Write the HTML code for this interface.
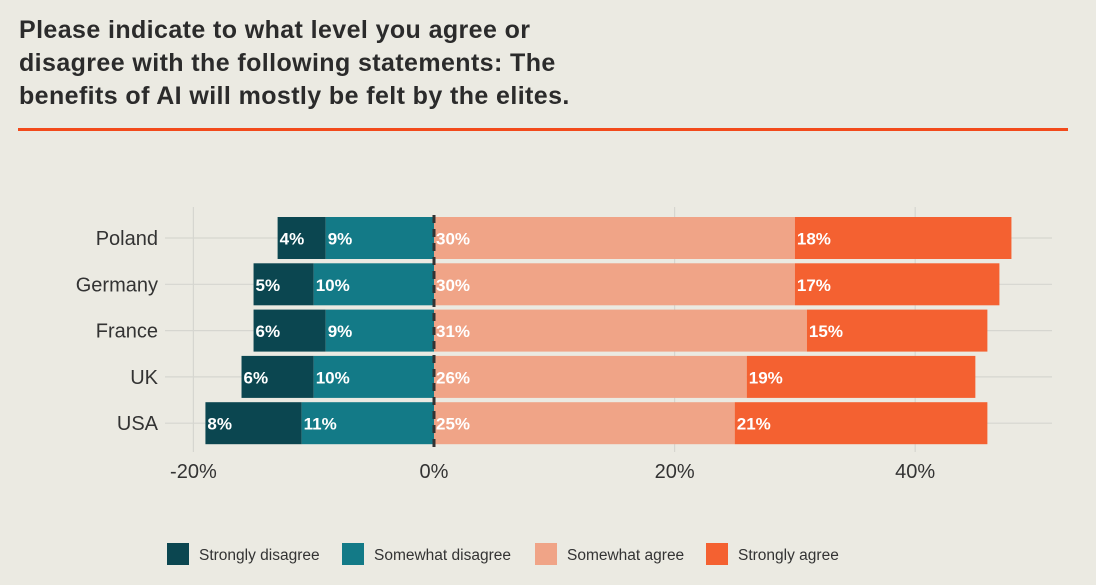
<!DOCTYPE html>
<html><head><meta charset="utf-8"><style>
body{margin:0;background:#EBEAE2;width:1096px;height:585px;overflow:hidden;font-family:"Liberation Sans",sans-serif;}
#title{position:absolute;left:19px;top:14px;font-size:25px;letter-spacing:0.4px;font-weight:bold;line-height:33px;color:#2b2b2b;margin:0;}
#rule{position:absolute;left:18px;top:128px;width:1050px;height:3px;background:#F24A1B;}
svg{position:absolute;left:0;top:0;}
</style></head><body>
<h1 id="title">Please indicate to what level you agree or<br>disagree with the following statements: The<br>benefits of AI will mostly be felt by the elites.</h1>
<div id="rule"></div>
<svg id="chart" width="1096" height="585"></svg>
<script>
const countries=["Poland","Germany","France","UK","USA"];
const stronglyDisagree=[4,5,6,6,8];
const somewhatDisagree=[9,10,9,10,11];
const somewhatAgree=[30,30,31,26,25];
const stronglyAgree=[18,17,15,19,21];
const xTicks=[-20,0,20,40];
const colors=["#0B4650","#137A87","#F0A487","#F46131"];
const seriesNames=["Strongly disagree","Somewhat disagree","Somewhat agree","Strongly agree"];
const NS="http://www.w3.org/2000/svg";
const svg=document.getElementById('chart');
const x=v=>434+v*12.03;
const y0=217,step=46.3,bh=42;
const yc=i=>y0+i*step+bh/2;
function mk(t,a,p){const e=document.createElementNS(NS,t);for(const k in a)e.setAttribute(k,a[k]);(p||svg).appendChild(e);return e;}
xTicks.forEach(t=>{if(t!==0){const l=mk('line',{x1:x(t),x2:x(t),y1:207,y2:452,stroke:'#d6d6d0','stroke-width':1.2});

}
const tx=mk('text',{x:x(t),y:478,'text-anchor':'middle','font-size':20,fill:'#333'});tx.textContent=t+'%';

});
countries.forEach((c,i)=>{const l=mk('line',{x1:165,x2:1052,y1:yc(i),y2:yc(i),stroke:'#d6d6d0','stroke-width':1.2});


const t=mk('text',{x:158,y:yc(i)+7,'text-anchor':'end','font-size':20,fill:'#333'});t.textContent=c;

});
countries.forEach((c,i)=>{
 const segs=[[-(stronglyDisagree[i]+somewhatDisagree[i]),stronglyDisagree[i]],[-somewhatDisagree[i],somewhatDisagree[i]],[0,somewhatAgree[i]],[somewhatAgree[i],stronglyAgree[i]]];
 segs.forEach((s,k)=>{
  const r=mk('rect',{x:x(s[0]),y:y0+i*step,width:s[1]*12.03,height:bh,fill:colors[k]});
  
  
  const t=mk('text',{x:x(s[0])+2,y:yc(i)+6.5,'font-size':17,'font-weight':'bold',fill:'#fff'});t.textContent=s[1]+'%';
  
  
 });
});
const z=mk('line',{x1:x(0),x2:x(0),y1:215,y2:452,stroke:'#333','stroke-width':3,'stroke-dasharray':'8,6'});


const lx=[167,342,535,706];
seriesNames.forEach((n,k)=>{
 const g=mk('g',{});
 
 
 mk('rect',{x:lx[k],y:543,width:22,height:22,fill:colors[k]},g);
 const t=mk('text',{x:lx[k]+32,y:560,'font-size':15.5,fill:'#333'},g);t.textContent=n;
});
</script>
</body></html>
